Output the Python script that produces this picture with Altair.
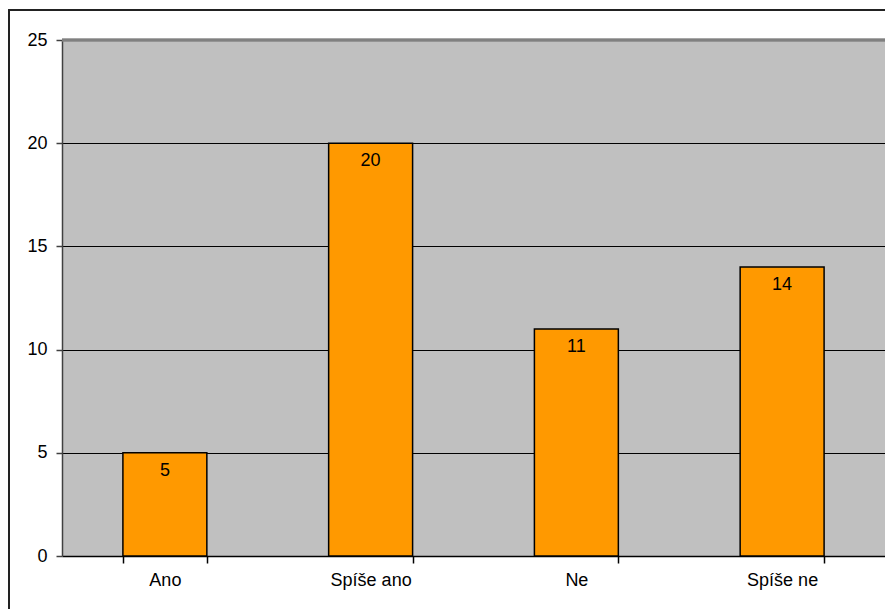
import altair as alt
import pandas as pd

categories = ["Ano", "Spíše ano", "Ne", "Spíše ne"]
values = [5, 20, 11, 14]

df = pd.DataFrame({"kategorie": categories, "pocet": values})

FONT = "Liberation Sans"

x_enc = alt.X(
    "kategorie:N",
    sort=categories,
    title=None,
    scale=alt.Scale(paddingInner=0.592, paddingOuter=0.296),
    axis=alt.Axis(
        labelAngle=0,
        labelFontSize=18,
        labelFont=FONT,
        labelColor="black",
        labelPadding=8,
        domainColor="black",
        domainWidth=1.5,
        tickColor="black",
        tickSize=7,
        tickWidth=1.5,
        tickBand="extent",
        grid=False,
    ),
)
y_enc = alt.Y(
    "pocet:Q",
    title=None,
    scale=alt.Scale(domain=[0, 25], nice=False),
    axis=alt.Axis(
        values=[0, 5, 10, 15, 20, 25],
        labelFontSize=18,
        labelFont=FONT,
        labelColor="black",
        labelPadding=9,
        domainColor="#404040",
        domainWidth=1.5,
        tickColor="#404040",
        tickSize=6,
        tickWidth=1.5,
        grid=True,
        gridColor={"condition": {"test": "datum.value === 25 || datum.value === 0", "value": "transparent"}, "value": "black"},
        gridWidth=1,
    ),
)

bars = alt.Chart(df).mark_bar(
    color="#FF9900", stroke="black", strokeWidth=1.5
).encode(x=x_enc, y=y_enc)

labels = alt.Chart(df).mark_text(
    fontSize=18, font=FONT, color="black", baseline="middle", dy=18
).encode(x=alt.X("kategorie:N", sort=categories), y="pocet:Q", text="pocet:Q")

top_line = alt.Chart(df).mark_rule(color="#808080", strokeWidth=2.5).encode(
    x=alt.value(0), x2=alt.value(823), y=alt.value(0)
)

frame = alt.Chart(df).mark_rect(
    fillOpacity=0, stroke="#222222", strokeWidth=1.5
).encode(
    x=alt.value(-53), x2=alt.value(900), y=alt.value(-30), y2=alt.value(700)
)

chart = alt.layer(frame, bars, labels, top_line).properties(
    width=823,
    height=516,
    background="white",
    padding={"left": 62, "top": 40, "right": 0, "bottom": 53},
    autosize=alt.AutoSizeParams(type="none"),
).configure_view(
    fill="#C0C0C0", stroke=None
)

chart.save("out.html", embed_options={"renderer": "svg", "actions": False})
